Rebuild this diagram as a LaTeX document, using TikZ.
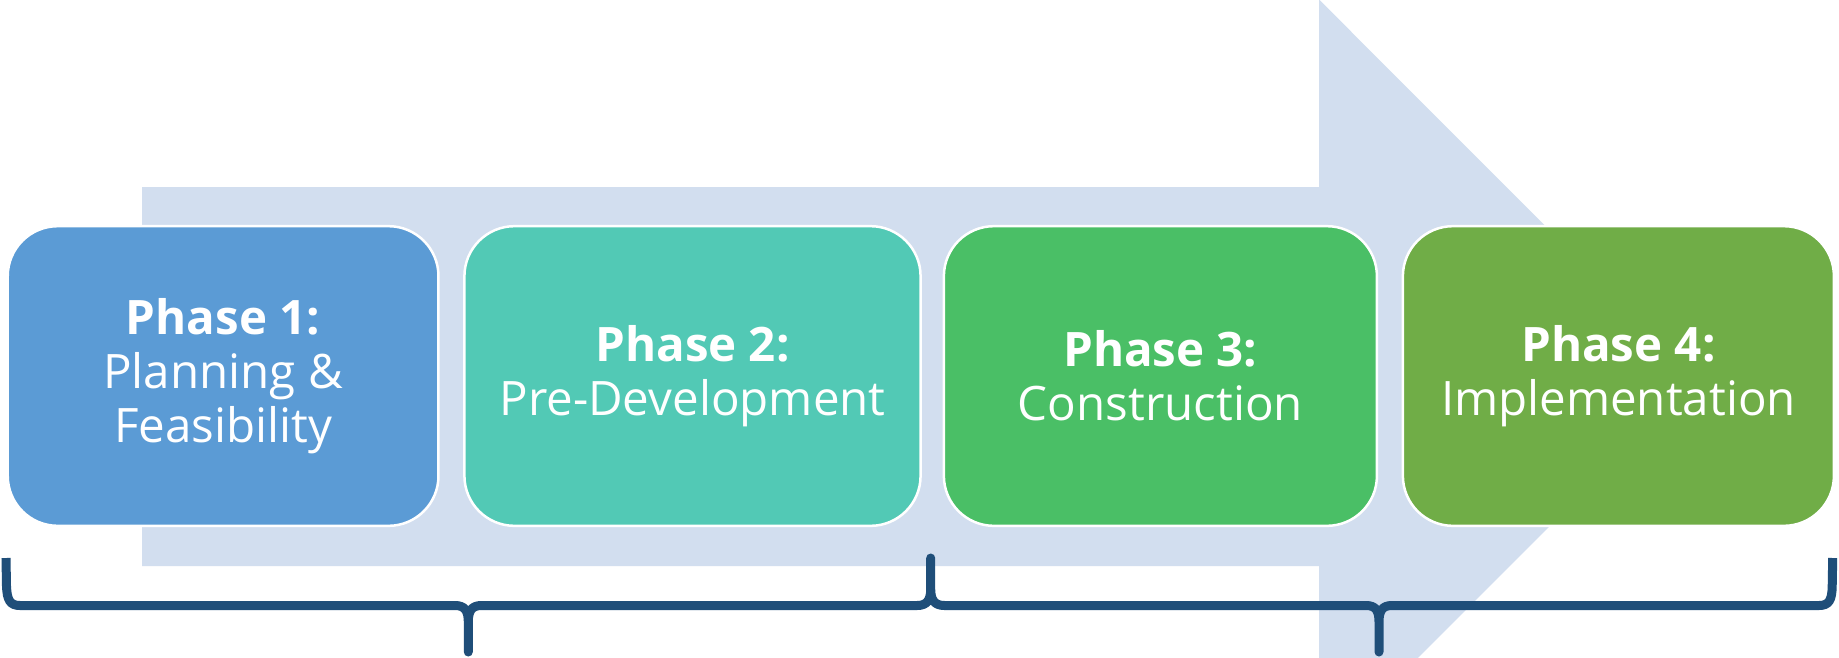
\documentclass[tikz,border=0pt]{standalone}
\usepackage{fontspec}
\setmainfont{Open Sans}
\definecolor{arrowbg}{HTML}{D2DEEF}
\definecolor{pone}{HTML}{5B9BD5}
\definecolor{ptwo}{HTML}{52C9B5}
\definecolor{pthree}{HTML}{4ABF66}
\definecolor{pfour}{HTML}{70AD47}
\definecolor{bracec}{HTML}{1F4E79}
\tikzset{
  phasebox/.style={draw=white, line width=2.5*0.2845pt, rounded corners=0.5cm,
    minimum height=2.995cm, align=center, text=white, inner sep=0pt,
    font=\fontsize{13.5pt}{15.4pt}\selectfont},
  bracepath/.style={draw=bracec, line width=9*0.2845pt, line join=round}
}
\begin{document}
\begin{tikzpicture}[x=0.01cm, y=-0.01cm]
\clip (0,0) rectangle (1839,657);
\fill[white] (0,0) rectangle (1839,657);
% big background arrow
\fill[arrowbg] (142,187) -- (1319,187) -- (1319,-0.5) -- (1697.6,378.2)
  -- (1319,756.9) -- (1319,566) -- (142,566) -- cycle;
% phase boxes
\node[phasebox, fill=pone, minimum width=4.305cm] (p1) at (223.1,376)
  {\textbf{Phase 1:}\\Planning \&\\Feasibility};
\node[phasebox, fill=ptwo, minimum width=4.559cm] (p2) at (692.5,376)
  {\textbf{Phase 2:}\\Pre-Development};
\node[phasebox, fill=pthree, minimum width=4.328cm] (p3) at (1160.4,376)
  {\textbf{Phase 3:}\\Construction};
\node[phasebox, fill=pfour, minimum width=4.308cm] (p4) at (1618.4,376)
  {\textbf{Phase 4:}\\Implementation};
% braces
\coordinate (bl) at (6,558);
\coordinate (tipa) at (468.3,652);
\coordinate (cusp) at (930.7,558);
\coordinate (tipb) at (1379,652);
\coordinate (br) at (1832.7,558);
\draw[bracepath] (bl) -- (6.5,586) .. controls (7,600) and (10,605.5) .. (20,605.5)
  -- (455,605.5) .. controls (465,605.5) and (468.3,611) .. (468.3,622) -- (tipa)
  -- (468.3,622) .. controls (468.3,611) and (471.5,605.5) .. (481.5,605.5)
  -- (917,605.5) .. controls (927,605.5) and (930.7,600) .. (930.7,589) -- (cusp)
  -- (930.7,589) .. controls (930.7,600) and (934.5,605.5) .. (944.5,605.5)
  -- (1366,605.5) .. controls (1376,605.5) and (1379,611) .. (1379,622) -- (tipb)
  -- (1379,622) .. controls (1379,611) and (1382,605.5) .. (1392,605.5)
  -- (1819,605.5) .. controls (1829,605.5) and (1832,600) .. (1832.2,586) -- (br);
\end{tikzpicture}
\end{document}
